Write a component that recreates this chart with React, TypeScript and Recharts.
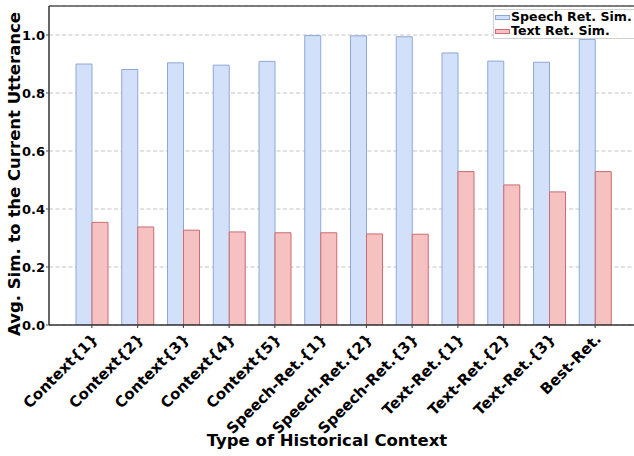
import React from 'react';
import { BarChart, Bar, XAxis, YAxis, CartesianGrid, ReferenceLine } from 'recharts';

const categories = [
  'Context{1}', 'Context{2}', 'Context{3}', 'Context{4}', 'Context{5}',
  'Speech-Ret.{1}', 'Speech-Ret.{2}', 'Speech-Ret.{3}',
  'Text-Ret.{1}', 'Text-Ret.{2}', 'Text-Ret.{3}', 'Best-Ret.',
];
const speechRetSim = [0.900, 0.881, 0.904, 0.896, 0.909, 0.998, 0.997, 0.994, 0.938, 0.910, 0.906, 0.985];
const textRetSim = [0.354, 0.338, 0.327, 0.321, 0.318, 0.318, 0.314, 0.313, 0.529, 0.483, 0.459, 0.529];
const yTicks = [0, 0.2, 0.4, 0.6, 0.8, 1.0];

const data = categories.map((name, i) => ({
  name,
  speech: speechRetSim[i],
  text: textRetSim[i],
}));

const FONT = '"DejaVu Sans", Verdana, sans-serif';
const BLUE_FILL = '#d3e0fa';
const BLUE_LINE = '#8ea8d6';
const RED_FILL = '#f5c1c1';
const RED_LINE = '#cc6b71';

const legendItems = [
  { label: 'Speech Ret. Sim.', fill: BLUE_FILL, line: BLUE_LINE },
  { label: 'Text Ret. Sim.', fill: RED_FILL, line: RED_LINE },
];

const XTick = (props: any) => {
  const { x, y, payload } = props;
  return (
    <g transform={`translate(${x + 7},${y + 12}) rotate(-45)`}>
      <text textAnchor="end" fontFamily={FONT} fontWeight="bold" fontSize={15} fill="#000">
        {payload.value}
      </text>
    </g>
  );
};

const LegendBox = () => (
  <div
    style={{
      position: 'absolute',
      left: 493,
      top: 9,
      width: 150,
      fontFamily: FONT,
      fontWeight: 'bold',
      fontSize: 12.6,
      lineHeight: '14px',
      background: 'rgba(255,255,255,0.85)',
      border: '1px solid #d0d0d0',
      padding: '0px 0px 0px 1px',
      whiteSpace: 'nowrap',
    }}
  >
    {legendItems.map((it) => (
      <div key={it.label} style={{ display: 'flex', alignItems: 'center' }}>
        <span
          style={{
            display: 'inline-block',
            width: 13,
            height: 3,
            background: it.fill,
            border: `1px solid ${it.line}`,
            marginRight: 1,
          }}
        />
        <span>{it.label}</span>
      </div>
    ))}
  </div>
);

export default function App() {
  return (
    <div style={{ position: 'fixed', left: 0, top: 0, width: 634, height: 456, overflow: 'hidden', background: '#fff' }}>
      <BarChart
        width={660}
        height={456}
        data={data}
        margin={{ top: 6, right: 22, left: 0, bottom: 0 }}
        barGap={0}
        barSize={16}
      >
        <CartesianGrid vertical={false} stroke="#c4c4c4" strokeDasharray="4 2.5" />
        <XAxis
          dataKey="name"
          height={131}
          padding={{ left: 20, right: 20 }}
          interval={0}
          tickSize={3}
          tickMargin={0}
          stroke="#333"
          tickLine={{ stroke: '#333' }}
          axisLine={{ stroke: '#333', strokeWidth: 1.5 }}
          tick={<XTick />}
        />
        <YAxis
          width={49}
          domain={[0, 1.1]}
          ticks={yTicks}
          allowDataOverflow
          tickFormatter={(v: number) => v.toFixed(1)}
          tickSize={3}
          tickMargin={1}
          tickLine={{ stroke: '#555' }}
          axisLine={{ stroke: '#333', strokeWidth: 1.5 }}
          tick={{ fontFamily: FONT, fontWeight: 'bold', fontSize: 13, fill: '#000' }}
        />
        <ReferenceLine y={1.1} stroke="#555" strokeWidth={1.5} />
        <Bar dataKey="speech" name="Speech Ret. Sim." fill={BLUE_FILL} stroke={BLUE_LINE} strokeWidth={1} isAnimationActive={false} />
        <Bar dataKey="text" name="Text Ret. Sim." fill={RED_FILL} stroke={RED_LINE} strokeWidth={1} isAnimationActive={false} />
      </BarChart>
      <LegendBox />
      <svg width={634} height={456} style={{ position: 'absolute', left: 0, top: 0, pointerEvents: 'none' }}>
        <text
          x={20}
          y={174}
          transform="rotate(-90, 20, 174)"
          textAnchor="middle"
          fontFamily={FONT}
          fontWeight="bold"
          fontSize={16.5}
          fill="#000"
        >
          Avg. Sim. to the Current Utterance
        </text>
        <text x={327} y={446} textAnchor="middle" fontFamily={FONT} fontWeight="bold" fontSize={16.5} fill="#000">
          Type of Historical Context
        </text>
      </svg>
    </div>
  );
}
